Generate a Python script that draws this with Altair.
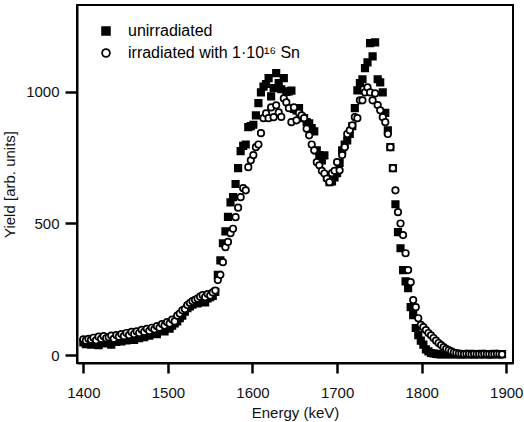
import altair as alt
import pandas as pd

energy = [
    1400, 1403, 1406, 1409, 1412, 1415, 1418, 1421, 1424, 1427,
    1430, 1433, 1436, 1439, 1442, 1445, 1448, 1451, 1454, 1457,
    1460, 1463, 1466, 1469, 1472, 1475, 1478, 1481, 1484, 1487,
    1490, 1493, 1496, 1499, 1502, 1505, 1508, 1511, 1514, 1517,
    1520, 1523, 1526, 1529, 1532, 1535, 1538, 1541, 1544, 1547,
    1550, 1553, 1556, 1559, 1562, 1565, 1568, 1571, 1574, 1577,
    1580, 1583, 1586, 1589, 1592, 1595, 1598, 1601, 1604, 1607,
    1610, 1613, 1616, 1619, 1622, 1625, 1628, 1631, 1634, 1637,
    1640, 1643, 1646, 1649, 1652, 1655, 1658, 1661, 1664, 1667,
    1670, 1673, 1676, 1679, 1682, 1685, 1688, 1691, 1694, 1697,
    1700, 1703, 1706, 1709, 1712, 1715, 1718, 1721, 1724, 1727,
    1730, 1733, 1736, 1739, 1742, 1745, 1748, 1751, 1754, 1757,
    1760, 1763, 1766, 1769, 1772, 1775, 1778, 1781, 1784, 1787,
    1790, 1793, 1796, 1799, 1802, 1805, 1808, 1811, 1814, 1817,
    1820, 1823, 1826, 1829, 1832, 1835, 1838, 1841, 1844, 1847,
    1850, 1853, 1856, 1859, 1862, 1865, 1868, 1871, 1874, 1877,
    1880, 1883, 1886, 1889, 1892, 1895,
]

unirradiated = [
    48, 42, 50, 40, 46, 52, 38, 47, 50, 44,
    52, 40, 55, 50, 58, 52, 62, 56, 60, 66,
    58, 70, 64, 72, 68, 78, 74, 82, 88, 80,
    92, 96, 90, 104, 100, 112, 120, 128, 140, 150,
    165, 178, 185, 192, 200, 196, 205, 210, 200, 215,
    220, 225, 240, 305, 360, 425, 470, 525, 580, 600,
    650, 710, 775, 795, 800, 866, 870, 875, 911, 957,
    998, 1020, 1030, 1052, 983, 1014, 1071, 1033, 1010, 1052,
    1000, 1002, 1005, 935, 930, 938, 904, 900, 885, 880,
    862, 850, 778, 760, 740, 759, 676, 657, 660, 675,
    691, 730, 778, 800, 816, 840, 870, 938, 1006, 1033,
    1048, 1090, 1112, 1185, 1135, 1188, 1048, 1036, 998, 920,
    854, 790, 710, 573, 467, 406, 323, 280, 254, 182,
    152, 103, 76, 55, 40, 22, 14, 8, 6, 5,
    4, 3, 5, 4, 3, 4, 5, 3, 4, 3,
    4, 3, 5, 4, 3, 4, 3, 5, 4, 3,
    4, 3, 5, 4, 3, 4,
]

irradiated = [
    60, 55, 62, 58, 66, 56, 70, 62, 72, 64,
    68, 74, 62, 76, 70, 80, 72, 84, 76, 88,
    80, 90, 84, 96, 88, 100, 92, 104, 98, 110,
    104, 118, 112, 125, 120, 135, 128, 150, 158, 170,
    175, 190, 198, 205, 210, 215, 222, 228, 220, 232,
    226, 238, 245, 285, 305, 353, 410, 430, 463, 480,
    524, 560, 600, 634, 626, 714, 740, 760, 790, 800,
    843, 900, 918, 900, 941, 904, 949, 922, 905, 975,
    960, 938, 885, 941, 892, 920, 911, 900, 860, 835,
    800, 778, 733, 721, 700, 690, 670, 657, 691, 700,
    733, 702, 760, 790, 840, 854, 873, 904, 900, 968,
    968, 998, 1017, 998, 968, 994, 950, 930, 904, 885,
    840, 790, 710, 626, 543, 500, 456, 387, 323, 277,
    209, 182, 140, 115, 106, 95, 84, 75, 65, 55,
    46, 38, 30, 24, 19, 14, 10, 8, 6, 5,
    4, 5, 4, 3, 5, 4, 4, 3, 5, 4,
    4, 3, 4, 5, 4, 3,
]

series_names = ["unirradiated", "irradiated with 1·10¹⁶ Sn"]
x_ticks = [1400, 1500, 1600, 1700, 1800, 1900]
y_ticks = [0, 500, 1000]

df = pd.DataFrame({
    "Energy": energy + energy,
    "Yield": unirradiated + irradiated,
    "series": [series_names[0]] * len(energy) + [series_names[1]] * len(energy),
})

FONT = "Liberation Sans"

legend = alt.Legend(title=None, labelLimit=400)

chart = alt.Chart(df).mark_point(
    filled=True, strokeWidth=1.7, opacity=1, size=42
).encode(
    x=alt.X("Energy:Q",
            scale=alt.Scale(domain=[1392.5, 1908], nice=False, zero=False),
            axis=alt.Axis(values=x_ticks, title="Energy (keV)", format="d",
                          labelPadding=12, titlePadding=5)),
    y=alt.Y("Yield:Q",
            scale=alt.Scale(domain=[-30, 1330], nice=False, zero=False),
            axis=alt.Axis(values=y_ticks, title="Yield [arb. units]", format="d",
                          tickSize=12, labelPadding=6, titleX=-60)),
    shape=alt.Shape("series:N",
                    scale=alt.Scale(domain=series_names, range=["square", "circle"]),
                    legend=legend),
    fill=alt.Fill("series:N",
                  scale=alt.Scale(domain=series_names, range=["black", "white"]),
                  legend=legend),
    stroke=alt.Stroke("series:N",
                      scale=alt.Scale(domain=series_names, range=["black", "black"]),
                      legend=legend),
).properties(
    width=436, height=358,
    autosize=alt.AutoSizeParams(type="none"),
    padding={"left": 77, "top": 5, "right": 11, "bottom": 59},
).configure_view(
    stroke="black", strokeWidth=2
).configure_axis(
    grid=False, domainColor="black", domainWidth=2,
    tickColor="black", tickWidth=2.5, tickSize=10,
    labelFont=FONT, labelFontSize=15, labelColor="#111",
    titleFont=FONT, titleFontSize=15, titleFontWeight="normal", titleColor="#111",
).configure_legend(
    orient="none", legendX=21, legendY=18, padding=0,
    symbolStrokeColor="black", symbolStrokeWidth=1.8, symbolSize=60,
    labelFont=FONT, labelFontSize=16, labelColor="black", labelLimit=400,
    rowPadding=6, labelOffset=14,
)

chart.save("out.html", embed_options={"renderer": "svg", "actions": False})
